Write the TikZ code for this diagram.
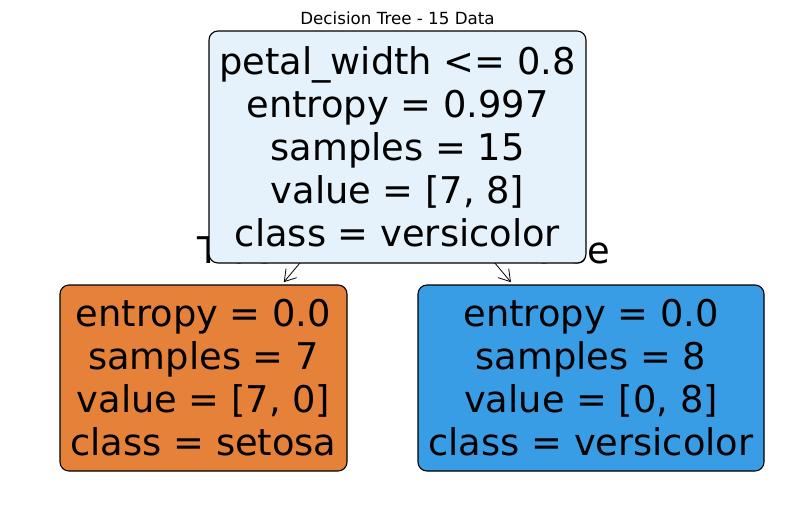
\documentclass[tikz,border=0pt]{standalone}
\usepackage{fontspec}
\setmainfont{DejaVu Sans}
\usepackage{tikz}
\usetikzlibrary{arrows.meta}
\definecolor{rootfill}{RGB}{229,242,252}
\definecolor{setosafill}{RGB}{229,129,57}
\definecolor{versifill}{RGB}{57,157,229}
\begin{document}
\begin{tikzpicture}[x=1pt,y=-1pt,
leaf/.style={draw,line width=1.1pt,rounded corners=9pt,align=center,
  font=\fontsize{36.8}{43}\selectfont,minimum height=186pt,inner sep=0pt},
branch/.style={font=\fontsize{36.8}{43}\selectfont,inner sep=0pt},
edge/.style={-{Straight Barb[length=11pt,width=14pt,line width=0.8pt]},line width=0.8pt,shorten >=3pt}]
\useasboundingbox(0,0)rectangle(794,504);
\node[font=\fontsize{16.7}{20}\selectfont](title)at(397.5,18){Decision Tree - 15 Data};
\node[leaf,fill=setosafill,minimum width=287pt](setosa)at(203.5,378)
{entropy = 0.0\\samples = 7\\value = [7, 0]\\class = setosa};
\node[leaf,fill=versifill,minimum width=346pt](versi)at(591,378)
{entropy = 0.0\\samples = 8\\value = [0, 8]\\class = versicolor};
\coordinate(rootc)at(397.5,147);
\draw[edge](rootc)--(setosa);
\draw[edge](rootc)--(versi);
\node[branch,anchor=base west](true)at(197,263){True};
\node[branch,anchor=base east](false)at(610,263){False};
\node[leaf,fill=rootfill,minimum width=377pt,minimum height=232pt](root)at(rootc)
{petal\_width <= 0.8\\entropy = 0.997\\samples = 15\\value = [7, 8]\\class = versicolor};
\end{tikzpicture}
\end{document}
